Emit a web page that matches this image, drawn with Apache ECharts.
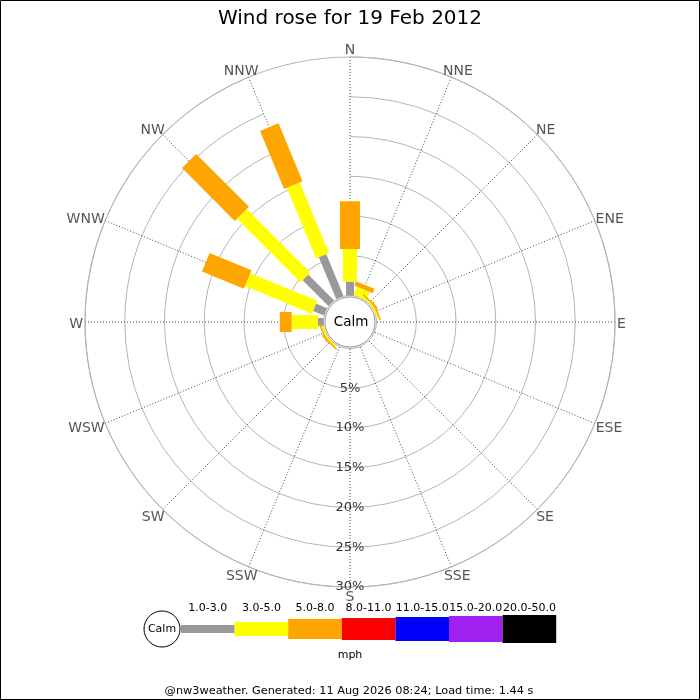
<!DOCTYPE html>
<html>
<head>
<meta charset="utf-8">
<script src="https://cdn.jsdelivr.net/npm/echarts@6/dist/echarts.min.js"></script>
<style>
html,body{margin:0;padding:0;background:#fff;}
#chart{width:700px;height:700px;}
</style>
</head>
<body>
<div id="chart"></div>
<script>
// ---- data ----
const directions = ['N','NNE','NE','ENE','E','ESE','SE','SSE','S','SSW','SW','WSW','W','WNW','NW','NNW'];
const speedClasses = ['1.0-3.0','3.0-5.0','5.0-8.0','8.0-11.0','11.0-15.0','15.0-20.0','20.0-50.0'];
// percent of time per direction, per speed class (mph)
const speed1to3   = [1.75, 0,   0,    0,    0,0,0,0,0,0,0,    0,    0.7, 1.5, 4.6, 5.7];
const speed3to5   = [4.1,  1.1, 0.2,  0.2,  0,0,0,0,0,0,0.2,  0.2,  3.3, 9.1, 11.3, 9.6];
const speed5to8   = [6.0,  0.6, 0.2,  0.2,  0,0,0,0,0,0,0.2,  0.2,  1.5, 5.7, 9.4, 7.9];
const speed8to11  = [0,0,0,0,0,0,0,0,0,0,0,0,0,0,0,0];
const speed11to15 = [0,0,0,0,0,0,0,0,0,0,0,0,0,0,0,0];
const speed15to20 = [0,0,0,0,0,0,0,0,0,0,0,0,0,0,0,0];
const speed20to50 = [0,0,0,0,0,0,0,0,0,0,0,0,0,0,0,0];
const radiusTicks = [5,10,15,20,25,30];
const radiusTickLabels = ['5%','10%','15%','20%','25%','30%'];
const calmLabel = 'Calm';
const unitLabel = 'mph';
const titleText = 'Wind rose for 19 Feb 2012';
const footerText = '@nw3weather. Generated: 11 Aug 2026 08:24; Load time: 1.44 s';

// ---- styles ----
const classColors = ['#999999','#ffff00','#ffa500','#ff0000','#0000ff','#a020f0','#000000'];
const classWidths = [8,14,20,22,24,26,28];
const FONT = 'DejaVu Sans';
const CX = 350, CY = 322;
const R_MAX = 30;

const allClasses = [speed1to3, speed3to5, speed5to8, speed8to11, speed11to15, speed15to20, speed20to50];

// stacked segments
const cumul = directions.map(() => 0);
const series = [];
allClasses.forEach((vals, ci) => {
  const data = [];
  vals.forEach((v, di) => {
    if (v > 0) {
      data.push([cumul[di], di, cumul[di] + v]);
      cumul[di] += v;
    }
  });
  const w = classWidths[ci];
  const color = classColors[ci];
  series.push({
    type: 'custom',
    name: speedClasses[ci],
    coordinateSystem: 'polar',
    encode: { radius: 0, angle: 1 },
    data: data,
    z: 5,
    renderItem: function (params, api) {
      const r0 = api.value(0), ang = api.value(1), r1 = api.value(2);
      const p0 = api.coord([r0, ang]);
      const p1 = api.coord([r1, ang]);
      const cs = params.coordSys;
      let dx = p1[0] - cs.cx, dy = p1[1] - cs.cy;
      const len = Math.sqrt(dx*dx + dy*dy) || 1;
      const ux = dx/len, uy = dy/len;
      const nx = -uy * w/2, ny = ux * w/2;
      return {
        type: 'polygon',
        shape: { points: [
          [p0[0]+nx, p0[1]+ny], [p1[0]+nx, p1[1]+ny],
          [p1[0]-nx, p1[1]-ny], [p0[0]-nx, p0[1]-ny]
        ]},
        style: { fill: color, stroke: null }
      };
    }
  });
});

// direction labels just outside the outer ring
const measureCtx = document.createElement('canvas').getContext('2d');
const DIR_FONT = '14px "DejaVu Sans"';
measureCtx.font = DIR_FONT;
series.push({
  type: 'custom',
  coordinateSystem: 'polar',
  encode: { radius: 0, angle: 1 },
  data: directions.map((d, i) => [R_MAX, i]),
  z: 6,
  silent: true,
  renderItem: function (params, api) {
    const idx = api.value(1);
    const p = api.coord([api.value(0), idx]);
    const cs = params.coordSys;
    let dx = p[0] - cs.cx, dy = p[1] - cs.cy;
    const len = Math.sqrt(dx*dx + dy*dy) || 1;
    const ux = dx/len, uy = dy/len;
    const text = directions[idx];
    const w = measureCtx.measureText(text).width;
    const h = 13;
    return {
      type: 'text',
      x: p[0] + ux*(w/2 + 2), y: p[1] + uy*(h/2 + 2) + 2,
      style: { text: text, font: DIR_FONT, fill: '#555', align: 'center', verticalAlign: 'middle' }
    };
  }
});

// radius tick labels along the S spoke
series.push({
  type: 'scatter',
  coordinateSystem: 'polar',
  symbolSize: 0,
  z: 7,
  silent: true,
  data: radiusTicks.map((t, i) => ({ value: [t, 'S'], label: { formatter: radiusTickLabels[i] } })),
  label: { show: true, position: 'inside', color: '#000', fontFamily: FONT, fontSize: 13 }
});

// legend graphics
const graphic = [];
const legX0 = 181, legW = 53.6, legY = 629;
graphic.push({ type: 'circle', shape: { cx: 162, cy: legY, r: 18 }, style: { fill: '#fff', stroke: '#000', lineWidth: 1 }, z: 10 });
graphic.push({ type: 'text', x: 162, y: legY, style: { text: calmLabel, font: '11px "DejaVu Sans"', fill: '#000', align: 'center', verticalAlign: 'middle' }, z: 11 });
speedClasses.forEach((name, i) => {
  const h = classWidths[i];
  graphic.push({ type: 'rect', shape: { x: legX0 + i*legW, y: legY - h/2, width: legW, height: h }, style: { fill: classColors[i] }, z: 9 });
  graphic.push({ type: 'text', x: legX0 + i*legW + legW/2, y: 608, style: { text: name, font: '11px "DejaVu Sans"', fill: '#000', align: 'center', verticalAlign: 'middle' }, z: 11 });
});
graphic.push({ type: 'text', x: 350, y: 655, style: { text: unitLabel, font: '11px "DejaVu Sans"', fill: '#000', align: 'center', verticalAlign: 'middle' }, z: 11 });
graphic.push({ type: 'text', x: 349, y: 691, style: { text: footerText, font: '11.3px "DejaVu Sans"', fill: '#000', align: 'center', verticalAlign: 'middle' }, z: 11 });
// calm circle
graphic.push({ type: 'circle', shape: { cx: CX, cy: CY, r: 25 }, style: { fill: '#fff', stroke: '#999', lineWidth: 1 }, z: 10 });
graphic.push({ type: 'text', x: CX + 1, y: CY, style: { text: calmLabel, font: '13.5px "DejaVu Sans"', fill: '#000', align: 'center', verticalAlign: 'middle' }, z: 11 });
// frame
graphic.push({ type: 'rect', shape: { x: 0.5, y: 0.5, width: 699, height: 699 }, style: { fill: 'none', stroke: '#000', lineWidth: 1 }, z: 12, silent: true });

const chart = echarts.init(document.getElementById('chart'), null, { renderer: 'canvas' });
chart.setOption({
  animation: false,
  backgroundColor: '#fff',
  title: {
    text: titleText, left: 'center', top: 4,
    textStyle: { fontFamily: FONT, fontSize: 20, fontWeight: 'normal', color: '#000' }
  },
  polar: { center: [CX, CY], radius: [26.5, 265] },
  angleAxis: {
    type: 'category', data: directions, boundaryGap: false, startAngle: 90, clockwise: true,
    axisLine: { show: true, lineStyle: { color: '#b4b4b4', width: 1 } },
    axisTick: { show: false },
    axisLabel: { show: false },
    splitLine: { show: true, interval: 0, lineStyle: { color: '#444', type: [1, 2], width: 1 } }
  },
  radiusAxis: {
    type: 'value', min: 0, max: R_MAX, interval: 5,
    axisLine: { show: false }, axisTick: { show: false }, axisLabel: { show: false },
    splitLine: { show: true, lineStyle: { color: ['rgba(0,0,0,0)','#b4b4b4','#b4b4b4','#b4b4b4','#b4b4b4','#b4b4b4','#b4b4b4'], width: 1 } }
  },
  series: series,
  graphic: graphic
});
</script>
</body>
</html>
